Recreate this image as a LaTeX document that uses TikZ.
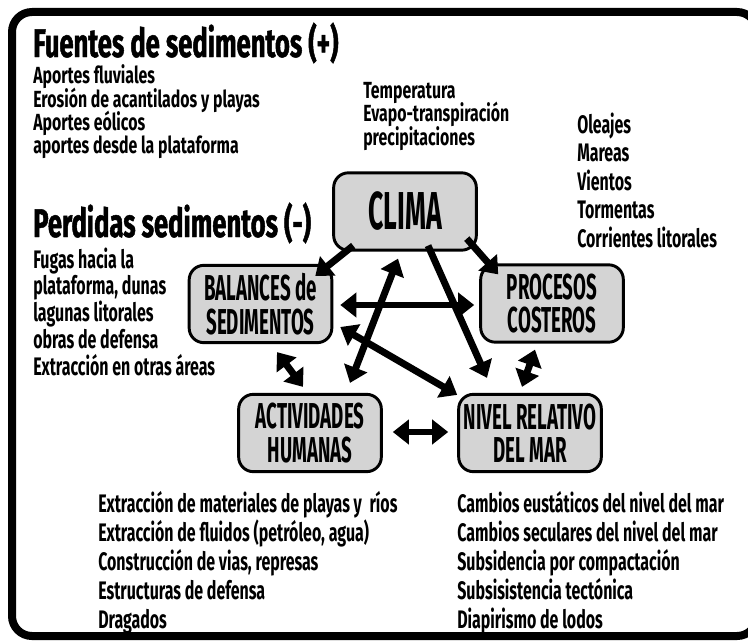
\documentclass[tikz,border=0pt]{standalone}
\usepackage{fontspec}
\setmainfont{Fira Sans}[FakeStretch=0.63]
\newfontfamily\tightfont{Fira Sans}[FakeStretch=0.68]
\newfontfamily\headfont{Fira Sans}[FakeStretch=0.64,FakeBold=1.2]
\newfontfamily\boxfont{Fira Sans}[FakeStretch=0.52]
\newfontfamily\climafont{Fira Sans}[FakeStretch=0.5]
\usetikzlibrary{arrows.meta}
\tikzset{
  caja/.style={draw, line width=2.2pt, rounded corners=11pt, fill=black!17,
    minimum width=107pt, minimum height=58pt, inner sep=0pt, align=center,
    font=\boxfont\bfseries\fontsize{27}{25}\selectfont},
  item/.style={anchor=base west, inner sep=0pt, font=\bfseries\fontsize{19}{19}\selectfont},
  tight/.style={item, font=\tightfont\bfseries\fontsize{17.5}{17.5}\selectfont},
  titulo/.style={anchor=base west, inner sep=0pt, font=\headfont\bfseries\fontsize{30}{30}\selectfont},
  flecha/.style={line width=5.2pt, -{Triangle[width=18pt,length=12pt]}},
  doble/.style={line width=5.2pt, {Triangle[width=18pt,length=12pt]}-{Triangle[width=18pt,length=12pt]}}
}
\begin{document}
\begin{tikzpicture}[x=0.75pt,y=-0.75pt]
\clip (0,0) rectangle (748,642);
\draw[line width=6pt, rounded corners=15pt] (12,12) rectangle (757,636); % frame
% boxes
\node[caja, font=\climafont\bfseries\fontsize{40}{40}\selectfont] (clima) at (405,211.5) {CLIMA};
\node[caja] (balance) at (260.5,304) {BALANCES de\\SEDIMENTOS};
\node[caja] (proceso) at (552,303.5) {PROCESOS\\COSTEROS};
\node[caja] (activ) at (310,433) {ACTIVIDADES\\HUMANAS};
\node[caja] (nivel) at (530,433) {NIVEL RELATIVO\\DEL MAR};
% arrows out of CLIMA
\draw[flecha] ([shift={(21,-6)}]clima.south west) -- ([shift={(-18,12)}]balance.north east);
\draw[flecha] ([shift={(-11,-13)}]clima.south east) -- ([shift={(19,11)}]proceso.north west);
\draw[flecha] ([shift={(23,-6)}]clima.south) -- ([shift={(-43,-15)}]nivel.north);
% two-way arrows
\draw[doble] ([shift={(7,1)}]balance.east) -- ([shift={(-5,1.5)}]proceso.west);
\draw[doble] ([shift={(7,23)}]balance.east) -- ([shift={(0,2)}]nivel.north west);
\draw[doble] ([shift={(40,-10)}]activ.north) -- ([shift={(-7,7)}]clima.south);
\draw[doble] ([shift={(16.5,8)}]balance.south) -- ([shift={(-7,-6)}]activ.north);
\draw[doble] ([shift={(-17,6)}]proceso.south) -- ([shift={(-8,-6)}]nivel.north);
\draw[doble] ([shift={(10,-1)}]activ.east) -- ([shift={(-9,-1)}]nivel.west);
% sources and losses
\node[titulo] (fuentes) at (33,57) {Fuentes de sedimentos (+)};
\foreach \t [count=\i] in {Aportes fluviales, Erosión de acantilados y playas, Aportes eólicos, aportes desde la plataforma}
  \node[tight] (fuente\i) at (33,{61+23*\i}) {\t};
\node[titulo] (perdidas) at (33,237) {Perdidas sedimentos (-)};
\foreach \t [count=\i] in {Fugas hacia la, {plataforma, dunas}, lagunas litorales, obras de defensa, Extracción en otras áreas}
  \node[item] (perdida\i) at (33,{241.25+26.75*\i}) {\t};
% lists by the boxes
\foreach \t [count=\i] in {Temperatura, Evapo-transpiración, precipitaciones}
  \node[tight] (clim\i) at (363,{74.5+23.5*\i}) {\t};
\foreach \t [count=\i] in {Oleajes, Mareas, Vientos, Tormentas, Corrientes litorales}
  \node[item] (proc\i) at (577,{104.5+28.5*\i}) {\t};
\foreach \t [count=\i] in {Extracción de materiales de playas y\ \ ríos, {Extracción de fluidos (petróleo, agua)}, {Construcción de vias, represas}, Estructuras de defensa, Dragados}
  \node[item] (activ\i) at (98,{483+29*\i}) {\t};
\foreach \t [count=\i] in {Cambios eustáticos del nivel del mar, Cambios seculares del nivel del mar, Subsidencia por compactación, Subsisistencia tectónica, Diapirismo de lodos}
  \node[item] (nivel\i) at (457,{483+29*\i}) {\t};
\end{tikzpicture}
\end{document}
